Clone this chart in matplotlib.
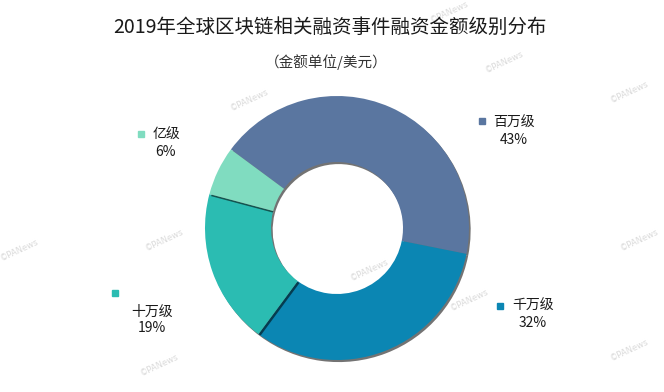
import matplotlib
matplotlib.use("Agg")
import matplotlib.pyplot as plt
import matplotlib.patheffects as pe

plt.rcParams['font.family'] = ['Noto Sans CJK SC', 'DejaVu Sans']

title = "2019年全球区块链相关融资事件融资金额级别分布"
subtitle = "（金额单位/美元）"
categories = ["百万级", "千万级", "十万级", "亿级"]
values = [43, 32, 19, 6]
colors = ["#5a76a0", "#0b86b3", "#2bbcb2", "#80dcc0"]

W, H = 664, 392
fig = plt.figure(figsize=(W / 100, H / 100), dpi=100)
ax = fig.add_axes([0, 0, 1, 1])

# faint watermarks
wm = [(450, 12), (505, 62), (250, 100), (380, 150), (630, 92), (165, 240),
      (20, 250), (640, 240), (470, 300), (370, 270), (160, 365), (630, 350), (430, 205)]
for x, y in wm:
    ax.text(x, H - y, "©PANews", fontsize=6, color="#dadada", rotation=25,
            ha='center', va='center', family=['DejaVu Sans'], zorder=0)

wedges, _ = ax.pie(values, colors=colors, startangle=143.5, counterclock=False,
                   center=(337, H - 228), radius=132, frame=True,
                   wedgeprops=dict(width=66, edgecolor='none'))
for w in wedges:
    w.set_path_effects([pe.SimplePatchShadow(offset=(1.2, -1.5), shadow_rgbFace='black', alpha=0.55),
                        pe.Normal()])
ax.set_xlim(0, W)
ax.set_ylim(0, H)
ax.set_aspect('equal')
ax.axis('off')

ax.text(330, H - 27, title, fontsize=14, ha='center', va='center', color='#1a1a1a')
ax.text(326, H - 62, subtitle, fontsize=10.5, ha='center', va='center', color='#333333')

# labels: (marker x, marker y, text center x, name y, pct y)
label_pos = {
    "百万级": (482, 121, 514, 123, 140),
    "千万级": (500, 306, 533, 306, 323),
    "十万级": (115, 293, 152, 312, 328),
    "亿级": (141, 134, 166, 135, 152),
}
for cat, val, col in zip(categories, values, colors):
    mx, my, tx, ny, py = label_pos[cat]
    ax.plot([mx], [H - my], marker='s', markersize=5, color=col, linestyle='none')
    ax.text(tx, H - ny, cat, fontsize=10, ha='center', va='center', color='#1a1a1a')
    ax.text(tx, H - py, f"{val}%", fontsize=10, ha='center', va='center', color='#1a1a1a')

fig.savefig("out.png", dpi=100, facecolor='white')
